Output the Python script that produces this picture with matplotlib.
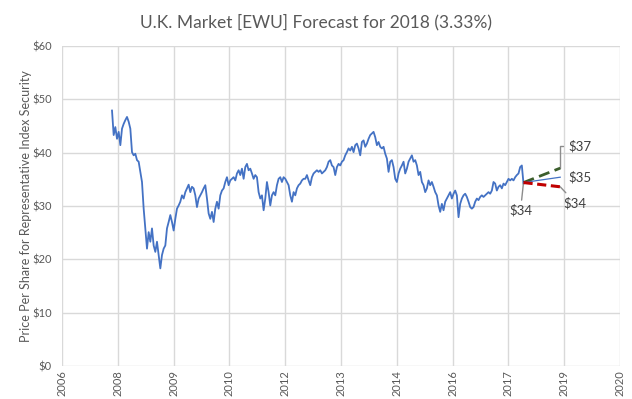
import numpy as np
import pandas as pd
import matplotlib
matplotlib.use("Agg")
import matplotlib.pyplot as plt
import matplotlib.dates as mdates

# EWU price at roughly two-week steps
prices = [
    47.9, 43.3, 44.8, 42.6, 43.9, 41.4, 44.5, 45.4, 46.1, 46.7,
    45.8, 44.5, 40.1, 39.5, 39.8, 38.6, 38.3, 36.4, 34.5, 29.5,
    25.8, 22.0, 25.1, 23.3, 25.8, 22.6, 21.4, 23.3, 20.8, 18.3,
    20.8, 22.0, 22.6, 25.8, 27.0, 28.3, 27.0, 25.4, 27.6, 29.5,
    30.1, 30.8, 32.0, 31.4, 32.6, 33.3, 34.0, 32.6, 33.6, 33.3,
    32.0, 29.8, 31.4, 32.0, 32.6, 33.3, 33.9, 31.4, 28.6, 27.6,
    28.9, 27.0, 29.5, 30.8, 29.5, 32.0, 32.9, 33.3, 34.5, 35.4,
    33.9, 34.8, 35.1, 35.4, 34.8, 36.1, 36.7, 35.8, 37.0, 35.1,
    37.3, 37.9, 36.7, 37.0, 36.1, 35.1, 35.8, 35.4, 32.6, 31.4,
    32.0, 29.2, 31.4, 34.5, 32.6, 30.1, 32.0, 32.6, 32.0, 33.9,
    35.1, 35.4, 34.5, 35.4, 35.1, 34.5, 33.9, 32.0, 30.8, 32.6,
    32.0, 33.3, 33.9, 34.2, 34.8, 35.1, 35.1, 35.8, 34.8, 33.9,
    35.4, 36.1, 36.4, 36.7, 36.4, 36.7, 36.1, 36.4, 36.7, 37.3,
    38.3, 38.6, 37.6, 37.3, 35.8, 37.3, 37.9, 37.6, 38.3, 38.6,
    39.5, 40.1, 40.8, 40.4, 41.1, 40.1, 41.4, 41.7, 40.8, 39.5,
    42.0, 42.3, 41.1, 41.7, 42.6, 43.3, 43.6, 43.9, 42.9, 41.4,
    42.0, 41.1, 40.8, 41.1, 39.8, 38.9, 36.4, 38.3, 38.6, 37.3,
    35.1, 34.5, 36.1, 37.0, 37.6, 38.3, 36.1, 37.0, 38.3, 38.9,
    39.5, 38.3, 38.6, 37.6, 35.8, 36.4, 34.5, 33.9, 32.6, 33.3,
    34.8, 33.9, 34.5, 33.6, 32.6, 32.0, 30.1, 28.9, 30.4, 29.2,
    30.8, 31.4, 32.0, 32.6, 31.4, 32.3, 32.9, 32.0, 27.9, 30.4,
    31.4, 32.0, 32.3, 31.7, 30.8, 29.8, 29.5, 29.8, 30.8, 31.4,
    31.1, 31.7, 32.0, 31.7, 32.0, 32.3, 32.6, 32.3, 32.9, 34.5,
    34.2, 32.9, 33.6, 33.9, 33.3, 34.2, 33.9, 34.5, 35.1, 34.8,
    35.1, 34.8, 35.4, 35.8, 36.1, 37.3, 37.6, 34.2,
]
dates = pd.date_range("2007-11-16", "2018-02-15", periods=len(prices))

# one-year forecast: start and end
fc_dates = pd.to_datetime(["2018-02-15", "2019-01-15"])
fc_start = 34.4
fc_high = 37.1
fc_mid = 35.4
fc_low = 33.6

x_min = pd.Timestamp("2006-08-18")
x_max = pd.Timestamp("2020-07-12")

grey = "#595959"
plt.rcParams["font.family"] = ["Lato", "DejaVu Sans"]

fig = plt.figure(figsize=(6.32, 3.99), dpi=100)
ax = fig.add_axes([62 / 632, 1 - 366 / 399, 558 / 632, 320 / 399])

ax.plot(dates, prices, color="#4472C4", linewidth=1.3, zorder=3)
ax.plot(fc_dates, [fc_start, fc_high], color="#3B5E2B", linewidth=2.0,
        linestyle=(0, (4, 2)), zorder=4)
ax.plot(fc_dates, [fc_start, fc_mid], color="#4472C4", linewidth=0.9, zorder=4)
ax.plot(fc_dates, [fc_start, fc_low], color="#C00000", linewidth=2.2,
        linestyle=(0, (3, 1.5)), zorder=4)

lbl = dict(textcoords="offset pixels", fontsize=9.5, color="#404040",
           ha="center", va="center")
line = dict(arrowstyle="-", color="#8C8C8C", linewidth=1.0, shrinkA=1, shrinkB=0)
ax.annotate(f"${fc_high:.0f}", (fc_dates[1], fc_high), xytext=(20, 22),
            arrowprops=dict(line, connectionstyle="angle,angleA=0,angleB=90,rad=0",
                            shrinkA=2), **lbl)
ax.annotate(f"${fc_mid:.0f}", (fc_dates[1], fc_mid), xytext=(20, 0), **lbl)
ax.annotate(f"${fc_low:.0f}", (fc_dates[1], fc_low), xytext=(15, -16),
            arrowprops=dict(line, shrinkA=1), **lbl)
ax.annotate(f"${fc_start:.0f}", (fc_dates[0], fc_start), xytext=(-3, -28),
            arrowprops=dict(line, shrinkA=1), **lbl)

ax.set_xlim(x_min, x_max)
ax.set_ylim(0, 60)
ax.set_xticks(pd.date_range(x_min, x_max, periods=11))
ax.xaxis.set_major_formatter(mdates.DateFormatter("%Y"))
ax.set_yticks(range(0, 61, 10))
ax.yaxis.set_major_formatter(plt.FuncFormatter(lambda v, p: f"${v:.0f}"))
ax.grid(True, color="#D9D9D9", linewidth=1.0)
ax.set_axisbelow(True)
for s in ax.spines.values():
    s.set_visible(False)
ax.tick_params(length=0, labelsize=8, labelcolor=grey)
ax.tick_params(axis="y", pad=7.5)
ax.tick_params(axis="x", pad=3, labelrotation=90)

ax.set_ylabel("Price Per Share for Representative Index Security",
              fontsize=9, color=grey, labelpad=0)
fig.suptitle("U.K. Market [EWU] Forecast for 2018 (3.33%)", fontsize=12.5,
             color=grey, y=0.965)

fig.savefig("out.png", dpi=100)
